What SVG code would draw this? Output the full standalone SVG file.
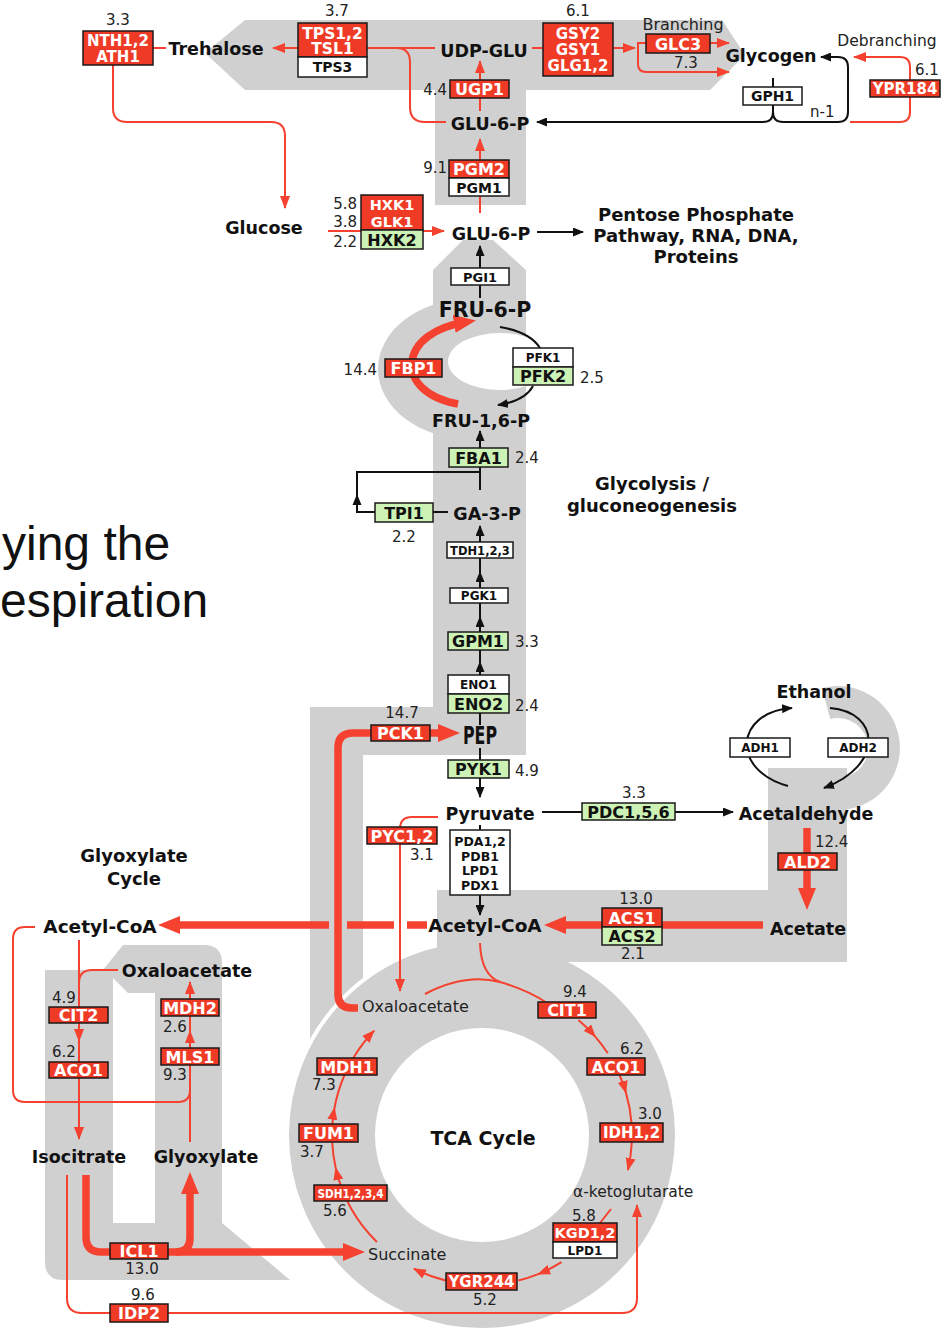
<svg xmlns="http://www.w3.org/2000/svg" width="945" height="1328" viewBox="0 0 945 1328">
<style>
.bg{fill:#d0d0d0}
.wh{fill:#ffffff}
.r{fill:#ef3b25;stroke:#1a1a1a;stroke-width:1.5}
.g{fill:#cdf2b6;stroke:#1a1a1a;stroke-width:1.5}
.w{fill:#ffffff;stroke:#1a1a1a;stroke-width:1.5}
.lr{fill:none;stroke:#f5412f;stroke-width:2}
.lt{fill:none;stroke:#f5412f;stroke-width:7.5}
.lk{fill:none;stroke:#111;stroke-width:2}
text{font-family:"DejaVu Sans",sans-serif}
.m{font-weight:bold;font-size:17.5px;fill:#111;text-anchor:middle}
.n{font-size:15px;fill:#222}
.c{text-anchor:middle}
.e{text-anchor:end}
.te{font-weight:bold;font-size:16px;fill:#fff;text-anchor:middle}
.tg{font-weight:bold;font-size:16px;fill:#111;text-anchor:middle}
.tw{font-weight:bold;font-size:12px;fill:#111;text-anchor:middle}
.tn{font-size:16px;fill:#222}
</style>
<defs>
<marker id="aK" markerUnits="userSpaceOnUse" markerWidth="11" markerHeight="9" refX="10" refY="4.5" orient="auto"><path d="M0,0 L11,4.5 L0,9 Z" fill="#111"/></marker>
<marker id="aR" markerUnits="userSpaceOnUse" markerWidth="13" markerHeight="10" refX="12" refY="5" orient="auto"><path d="M0,0 L13,5 L0,10 Z" fill="#f5412f"/></marker>
<marker id="aB" markerUnits="userSpaceOnUse" markerWidth="22" markerHeight="18" refX="12" refY="9" orient="auto"><path d="M0,0 L22,9 L0,18 Z" fill="#f5412f"/></marker>
</defs>
<rect width="945" height="1328" fill="#ffffff"/>

<g id="background">
<path class="bg" d="M45,1262 V970 H103 L123,945 H204 Q222,945 222,963 V1223 L290,1280 H63 Q45,1280 45,1262 Z"/>
<path class="wh" d="M113,978 L128,993 H155 V1223 H113 Z"/>
<path class="bg" d="M463,240 H493 L526,270 V755 H363 V1065 H310 V707 H433 V270 Z"/>
<path class="bg" d="M470,299 A92,70 0 0 0 470,439 Z"/>
<ellipse class="wh" cx="500" cy="361.5" rx="52" ry="28.5"/>
<path class="bg" d="M205,53 L245,20 H722 L745,55 L710,90 H526 V205 H435 V90 H245 Z"/>
<circle cx="482" cy="1135" r="195" fill="#d0d0d0" stroke="#ffffff" stroke-width="4"/>
<circle class="wh" cx="482" cy="1135" r="107"/>
<path class="bg" d="M768,768 H847 V962 H437 V890 H768 Z"/>
<path class="bg" d="M822,688.1 A62,62 0 1 1 827.2,809.1 L832.8,777.5 A30,30 0 1 0 830.2,719 Z"/>
</g>

<g id="slide-text">
<text x="2" y="560" style="font-family:'Liberation Sans',Arial,sans-serif;font-size:48px;fill:#111">ying the</text>
<text x="0" y="617" style="font-family:'Liberation Sans',Arial,sans-serif;font-size:48px;fill:#111">espiration</text>
</g>

<g id="connectors">
<path class="lr" d="M113,65 V108 Q113,122 127,122 H271 Q285,122 285,136 V208" marker-end="url(#aR)"/>
<path class="lr" d="M153,48 H166"/>
<path class="lr" d="M298,48 H273" marker-end="url(#aR)"/>
<path class="lr" d="M367,48 H435"/>
<path class="lr" d="M396,48 Q410,48 410,62 V107 Q410,122 425,122 H446"/>
<path class="lr" d="M532,48 H543"/>
<path class="lr" d="M613,48 H635" marker-end="url(#aR)"/>
<path class="lr" d="M646,43 H638 V64 Q638,72 646,72 H729" marker-end="url(#aR)"/>
<path class="lr" d="M710,43 H729" marker-end="url(#aR)"/>
<path class="lr" d="M910,80 V67 Q910,57 900,57 H854" marker-end="url(#aR)"/>
<path class="lr" d="M910,97 V112 Q910,122 900,122 H850"/>
<path class="lr" d="M480,111 V61" marker-end="url(#aR)"/>
<path class="lr" d="M480,213 V139" marker-end="url(#aR)"/>
<path class="lr" d="M328,231 H444" marker-end="url(#aR)"/>
<path class="lr" d="M438,817 H412 Q400,817 400,829 V991" marker-end="url(#aR)"/>
<path class="lr" d="M35,927 H25 Q13,927 13,939 V1090 Q13,1102 25,1102 H178 Q190,1102 190,1090"/>
<path class="lr" d="M79,940 V1041" marker-end="url(#aR)"/>
<path class="lr" d="M79,1041 V1062"/>
<path class="lr" d="M118,970 H92 Q79,970 79,983"/>
<path class="lr" d="M79,1078 V1139" marker-end="url(#aR)"/>
<path class="lr" d="M190,1142 V1065"/>
<path class="lr" d="M190,1048 V1031" marker-end="url(#aR)"/>
<path class="lr" d="M190,1031 V1016"/>
<path class="lr" d="M190,999 V982" marker-end="url(#aR)"/>
<path class="lr" d="M67,1175 V1298 Q67,1313 82,1313 H622 Q637,1313 637,1298 V1205" marker-end="url(#aR)"/>
<path class="lr" d="M425,994 Q465,973 500,982 Q528,990 547,1003"/>
<path class="lr" d="M480,943 Q481,975 500,982"/>
<path class="lr" d="M578.4,1020.1 A150,150 0 0 1 595.2,1036.6 A150,150 0 0 1 607.8,1053.3" marker-mid="url(#aR)"/>
<path class="lr" d="M619.5,1075 A150,150 0 0 1 626,1092.9 A150,150 0 0 1 631.5,1123" marker-mid="url(#aR)"/>
<path class="lr" d="M631.8,1142.1 A150,150 0 0 1 627.9,1170" marker-end="url(#aR)"/>
<path class="lr" d="M611,1209 L600,1223"/>
<path class="lr" d="M561.5,1262.2 A150,150 0 0 1 538.2,1274.1 A150,150 0 0 1 518.3,1280.5" marker-mid="url(#aR)"/>
<path class="lr" d="M445.7,1280.5 A150,150 0 0 1 413.9,1268.7" marker-end="url(#aR)"/>
<path class="lr" d="M376.9,1242 A150,150 0 0 1 335.7,1168 A150,150 0 0 1 332.2,1142.1" marker-mid="url(#aR)"/>
<path class="lr" d="M332.4,1124 A150,150 0 0 1 334.5,1107.9 A150,150 0 0 1 344.5,1075" marker-mid="url(#aR)"/>
<path class="lr" d="M353.3,1058 A150,150 0 0 1 374.1,1030.8" marker-end="url(#aR)"/>

<path class="lt" d="M458,404 C425,398 410,380 412,362 C414,342 435,327 466,322" marker-end="url(#aB)"/>
<path class="lt" d="M358,1008 H352 Q338,1008 338,994 V748 Q338,733 353,733 H450" marker-end="url(#aB)"/>
<path class="lt" d="M807,828 V900" marker-end="url(#aB)"/>
<path class="lt" d="M763,925 H554" marker-end="url(#aB)"/>
<path class="lt" d="M427,925 H407"/>
<path class="lt" d="M394,925 H347"/>
<path class="lt" d="M329,925 H168" marker-end="url(#aB)"/>
<path class="lt" d="M86,1175 V1237 Q86,1252 101,1252 H355" marker-end="url(#aB)"/>
<path class="lt" d="M176,1252 Q190,1252 190,1238 V1182" marker-end="url(#aB)"/>

<path class="lk" d="M773,78 V87"/>
<path class="lk" d="M773,105 V112 Q773,122 783,122 H838 Q848,122 848,112 V67 Q848,57 838,57 H821" marker-end="url(#aK)"/>
<path class="lk" d="M773,105 V112 Q773,122 763,122 H537" marker-end="url(#aK)"/>
<path class="lk" d="M537,232 H583" marker-end="url(#aK)"/>
<path class="lk" d="M480,268 V246" marker-end="url(#aK)"/>
<path class="lk" d="M480,285 V298"/>
<path class="lk" d="M500,327 Q530,332 540,348"/>
<path class="lk" d="M533,386 Q525,401 498,405" marker-end="url(#aK)"/>
<path class="lk" d="M480,448 V431" marker-end="url(#aK)"/>
<path class="lk" d="M480,467 V490"/>
<path class="lk" d="M480,472 H357 V512 H375"/>
<path d="M357,494 L352.5,505 L361.5,505 Z" fill="#111"/>
<path class="lk" d="M433,512 H448"/>
<path class="lk" d="M480,542 V526" marker-end="url(#aK)"/>
<path class="lk" d="M480,588 V572" marker-end="url(#aK)"/>
<path class="lk" d="M480,572 V558"/>
<path class="lk" d="M480,632 V617" marker-end="url(#aK)"/>
<path class="lk" d="M480,617 V603"/>
<path class="lk" d="M480,675 V662" marker-end="url(#aK)"/>
<path class="lk" d="M480,662 V650"/>
<path class="lk" d="M480,713 V725"/>
<path class="lk" d="M480,748 V797" marker-end="url(#aK)"/>
<path class="lk" d="M542,812 H733" marker-end="url(#aK)"/>
<path class="lk" d="M788,786 C730,770 735,712 792,708" marker-end="url(#aK)"/>
<path class="lk" d="M830,708 C880,712 885,765 824,788" marker-end="url(#aK)"/>
<path class="lk" d="M480,825 V830"/>
<path class="lk" d="M480,895 V915" marker-end="url(#aK)"/>
</g>

<g id="metabolites">
<text class="m" x="216" y="55">Trehalose</text>
<text class="m" x="484" y="57">UDP-GLU</text>
<text class="m" x="771" y="62">Glycogen</text>
<text class="m" x="490" y="130">GLU-6-P</text>
<text class="m" x="264" y="234">Glucose</text>
<text class="m" x="491" y="240">GLU-6-P</text>
<text class="m" x="485" y="317" style="font-size:20.5px">FRU-6-P</text>
<text class="m" x="481" y="427">FRU-1,6-P</text>
<text class="m" x="487" y="520">GA-3-P</text>
<text class="m" x="480" y="744" textLength="34" lengthAdjust="spacingAndGlyphs" style="font-family:'DejaVu Sans Condensed','DejaVu Sans',sans-serif;font-size:25px">PEP</text>
<text class="m" x="490" y="820">Pyruvate</text>
<text class="m" x="806" y="820">Acetaldehyde</text>
<text class="m" x="814" y="698">Ethanol</text>
<text class="m" x="808" y="935">Acetate</text>
<text class="m" x="485" y="932" style="font-size:18.5px">Acetyl-CoA</text>
<text class="m" x="100" y="933" style="font-size:18.5px">Acetyl-CoA</text>
<text class="m" x="187" y="977">Oxaloacetate</text>
<text class="m" x="79" y="1163">Isocitrate</text>
<text class="m" x="206" y="1163">Glyoxylate</text>
<text class="tn" x="362" y="1012">Oxaloacetate</text>
<text class="tn" x="573" y="1197" style="font-size:15.5px">α-ketoglutarate</text>
<text class="tn" x="368" y="1260">Succinate</text>
</g>

<g id="section-labels">
<text class="m" x="696" y="221" style="font-size:18px">Pentose Phosphate</text>
<text class="m" x="696" y="242" style="font-size:18px">Pathway, RNA, DNA,</text>
<text class="m" x="696" y="263" style="font-size:18px">Proteins</text>
<text class="m" x="652" y="490" style="font-size:18px">Glycolysis /</text>
<text class="m" x="652" y="512" style="font-size:18px">gluconeogenesis</text>
<text class="m" x="134" y="862" style="font-size:18px">Glyoxylate</text>
<text class="m" x="134" y="885" style="font-size:18px">Cycle</text>
<text class="m" x="483" y="1145" style="font-size:19px">TCA Cycle</text>
<text class="tn c" x="683" y="30">Branching</text>
<text class="tn c" x="887" y="46" style="font-size:15.5px">Debranching</text>
<text class="n" x="810" y="117">n-1</text>
</g>

<g id="values">
<text class="n c" x="118" y="25">3.3</text>
<text class="n c" x="337" y="16">3.7</text>
<text class="n c" x="578" y="16">6.1</text>
<text class="n c" x="686" y="68">7.3</text>
<text class="n c" x="927" y="75">6.1</text>
<text class="n e" x="447" y="95">4.4</text>
<text class="n e" x="447" y="173">9.1</text>
<text class="n e" x="357" y="209">5.8</text>
<text class="n e" x="357" y="227">3.8</text>
<text class="n e" x="357" y="247">2.2</text>
<text class="n e" x="377" y="375">14.4</text>
<text class="n" x="580" y="383">2.5</text>
<text class="n" x="515" y="463">2.4</text>
<text class="n c" x="404" y="542">2.2</text>
<text class="n" x="515" y="647">3.3</text>
<text class="n" x="515" y="711">2.4</text>
<text class="n c" x="402" y="718">14.7</text>
<text class="n" x="515" y="776">4.9</text>
<text class="n c" x="634" y="798">3.3</text>
<text class="n" x="815" y="847">12.4</text>
<text class="n c" x="636" y="904">13.0</text>
<text class="n c" x="633" y="959">2.1</text>
<text class="n" x="410" y="860">3.1</text>
<text class="n" x="52" y="1003">4.9</text>
<text class="n" x="52" y="1057">6.2</text>
<text class="n" x="163" y="1032">2.6</text>
<text class="n" x="163" y="1080">9.3</text>
<text class="n c" x="142" y="1274">13.0</text>
<text class="n c" x="143" y="1300">9.6</text>
<text class="n c" x="575" y="997">9.4</text>
<text class="n" x="620" y="1054">6.2</text>
<text class="n" x="638" y="1119">3.0</text>
<text class="n" x="572" y="1221">5.8</text>
<text class="n c" x="485" y="1305">5.2</text>
<text class="n" x="323" y="1216">5.6</text>
<text class="n" x="300" y="1157">3.7</text>
<text class="n" x="312" y="1090">7.3</text>
</g>

<g id="node-NTH"><rect class="r" x="83" y="31" width="70" height="34"/><text class="te" x="118" y="46" style="font-size:15px">NTH1,2</text><text class="te" x="118" y="61.5" style="font-size:15px">ATH1</text></g>
<g id="node-TPS"><rect class="r" x="298" y="23" width="69" height="34"/><rect class="w" x="298" y="57" width="69" height="20"/><text class="te" x="332.5" y="38.5" style="font-size:15.5px">TPS1,2</text><text class="te" x="332.5" y="54" style="font-size:15.5px">TSL1</text><text class="tw" x="332.5" y="72" style="font-size:14px">TPS3</text></g>
<g id="node-GSY"><rect class="r" x="543" y="23" width="70" height="53"/><text class="te" x="578" y="39" style="font-size:15px">GSY2</text><text class="te" x="578" y="55" style="font-size:15px">GSY1</text><text class="te" x="578" y="71" style="font-size:15px">GLG1,2</text></g>
<g id="node-GLC3"><rect class="r" x="646" y="34" width="64" height="19"/><text class="te" x="678" y="49.5">GLC3</text></g>
<g id="node-GPH1"><rect class="w" x="743" y="87" width="59" height="18"/><text class="tw" x="772.5" y="101" style="font-size:14px">GPH1</text></g>
<g id="node-YPR184"><rect class="r" x="870" y="80" width="70" height="17"/><text class="te" x="905" y="94" style="font-size:15px">YPR184</text></g>
<g id="node-UGP1"><rect class="r" x="450" y="80" width="59" height="18"/><text class="te" x="479.5" y="95">UGP1</text></g>
<g id="node-PGM"><rect class="r" x="449" y="160" width="60" height="18"/><rect class="w" x="449" y="178" width="60" height="18"/><text class="te" x="479" y="175">PGM2</text><text class="tw" x="479" y="192.5" style="font-size:14px">PGM1</text></g>
<g id="node-HXK"><rect class="r" x="361" y="195" width="62" height="35"/><rect class="g" x="361" y="230" width="62" height="19"/><text class="te" x="392" y="210" style="font-size:14.5px">HXK1</text><text class="te" x="392" y="226.5" style="font-size:14.5px">GLK1</text><text class="tg" x="392" y="245.5">HXK2</text></g>
<g id="node-PGI1"><rect class="w" x="451" y="268" width="58" height="17"/><text class="tw" x="480" y="281.5" style="font-size:13px">PGI1</text></g>
<g id="node-FBP1"><rect class="r" x="385" y="359" width="57" height="18"/><text class="te" x="413.5" y="374">FBP1</text></g>
<g id="node-PFK"><rect class="w" x="513" y="348" width="60" height="19"/><rect class="g" x="513" y="367" width="60" height="18"/><text class="tw" x="543" y="362">PFK1</text><text class="tg" x="543" y="382">PFK2</text></g>
<g id="node-FBA1"><rect class="g" x="449" y="448" width="59" height="19"/><text class="tg" x="478.5" y="463.5">FBA1</text></g>
<g id="node-TPI1"><rect class="g" x="375" y="503" width="58" height="19"/><text class="tg" x="404" y="518.5">TPI1</text></g>
<g id="node-TDH"><rect class="w" x="447" y="542" width="66" height="16"/><text class="tw" x="480" y="554.5" style="font-size:11.5px">TDH1,2,3</text></g>
<g id="node-PGK1"><rect class="w" x="450" y="588" width="58" height="15"/><text class="tw" x="479" y="600">PGK1</text></g>
<g id="node-GPM1"><rect class="g" x="448" y="632" width="60" height="18"/><text class="tg" x="478" y="647">GPM1</text></g>
<g id="node-ENO"><rect class="w" x="448" y="675" width="61" height="19"/><rect class="g" x="448" y="694" width="61" height="19"/><text class="tw" x="478.5" y="689">ENO1</text><text class="tg" x="478.5" y="709.5">ENO2</text></g>
<g id="node-PCK1"><rect class="r" x="371" y="725" width="59" height="16"/><text class="te" x="400.5" y="739">PCK1</text></g>
<g id="node-PYK1"><rect class="g" x="448" y="760" width="61" height="18"/><text class="tg" x="478.5" y="775">PYK1</text></g>
<g id="node-PDC"><rect class="g" x="582" y="803" width="93" height="17"/><text class="tg" x="628.5" y="817.5">PDC1,5,6</text></g>
<g id="node-ADH1"><rect class="w" x="730" y="738" width="60" height="19"/><text class="tw" x="760" y="752">ADH1</text></g>
<g id="node-ADH2"><rect class="w" x="828" y="738" width="60" height="19"/><text class="tw" x="858" y="752">ADH2</text></g>
<g id="node-ALD2"><rect class="r" x="778" y="853" width="59" height="17"/><text class="te" x="807.5" y="867.5">ALD2</text></g>
<g id="node-ACS"><rect class="r" x="602" y="908" width="60" height="19"/><rect class="g" x="602" y="927" width="60" height="18"/><text class="te" x="632" y="923.5">ACS1</text><text class="tg" x="632" y="942">ACS2</text></g>
<g id="node-PDA"><rect class="w" x="450" y="830" width="60" height="65"/><text class="tw" x="480" y="846" style="font-size:12.5px">PDA1,2</text><text class="tw" x="480" y="860.5" style="font-size:12.5px">PDB1</text><text class="tw" x="480" y="875" style="font-size:12.5px">LPD1</text><text class="tw" x="480" y="889.5" style="font-size:12.5px">PDX1</text></g>
<g id="node-PYC"><rect class="r" x="367" y="827" width="70" height="17"/><text class="te" x="402" y="841.5">PYC1,2</text></g>
<g id="node-CIT2"><rect class="r" x="49" y="1007" width="59" height="16"/><text class="te" x="78.5" y="1021">CIT2</text></g>
<g id="node-ACO1-glyox"><rect class="r" x="49" y="1062" width="59" height="16"/><text class="te" x="78.5" y="1076">ACO1</text></g>
<g id="node-MDH2"><rect class="r" x="161" y="999" width="58" height="17"/><text class="te" x="190" y="1013.5">MDH2</text></g>
<g id="node-MLS1"><rect class="r" x="161" y="1048" width="58" height="17"/><text class="te" x="190" y="1062.5">MLS1</text></g>
<g id="node-ICL1"><rect class="r" x="110" y="1243" width="58" height="16"/><text class="te" x="139" y="1257">ICL1</text></g>
<g id="node-IDP2"><rect class="r" x="110" y="1304" width="58" height="18"/><text class="te" x="139" y="1319">IDP2</text></g>
<g id="node-CIT1"><rect class="r" x="538" y="1002" width="58" height="16"/><text class="te" x="567" y="1016">CIT1</text></g>
<g id="node-ACO1-tca"><rect class="r" x="587" y="1058" width="58" height="17"/><text class="te" x="616" y="1072.5">ACO1</text></g>
<g id="node-IDH"><rect class="r" x="600" y="1123" width="63" height="19"/><text class="te" x="631.5" y="1138" style="font-size:15px">IDH1,2</text></g>
<g id="node-KGD"><rect class="r" x="553" y="1223" width="64" height="19"/><rect class="w" x="553" y="1242" width="64" height="16"/><text class="te" x="585" y="1238" style="font-size:14.5px">KGD1,2</text><text class="tw" x="585" y="1254.5">LPD1</text></g>
<g id="node-YGR244"><rect class="r" x="446" y="1273" width="71" height="17"/><text class="te" x="481.5" y="1287" style="font-size:15px">YGR244</text></g>
<g id="node-SDH"><rect class="r" x="314" y="1185" width="73" height="16"/><text class="te" x="350.5" y="1197.5" textLength="66" lengthAdjust="spacingAndGlyphs" style="font-size:12.5px">SDH1,2,3,4</text></g>
<g id="node-FUM1"><rect class="r" x="299" y="1124" width="59" height="18"/><text class="te" x="328.5" y="1139">FUM1</text></g>
<g id="node-MDH1"><rect class="r" x="317" y="1058" width="60" height="17"/><text class="te" x="347" y="1072.5">MDH1</text></g>
</svg>
